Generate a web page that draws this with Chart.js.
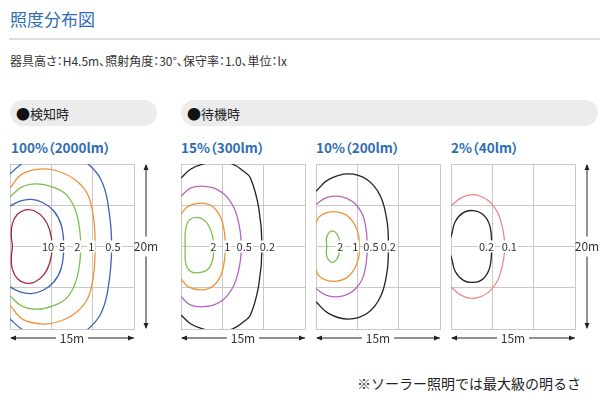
<!DOCTYPE html>
<html>
<head>
<meta charset="utf-8">
<script src="https://cdn.jsdelivr.net/npm/chart.js@4.4.1/dist/chart.umd.min.js"></script>
<style>
  body { margin: 0; width: 600px; height: 400px; background: #fff; position: relative; overflow: hidden;
         font-family: "Noto Sans CJK JP", "Noto Sans", sans-serif; color: #333; }
  .abs { position: absolute; white-space: nowrap; }
  #title { left: 10px; top: 9px; font-size: 17px; color: #2f6db5; line-height: 20px; }
  #rule { left: 9px; top: 38px; width: 591px; height: 2px; background: #dedede; }
  #sub { left: 10px; top: 52px; font-size: 12px; line-height: 18px; color: #333; font-feature-settings: "palt"; }
  .pill { top: 100px; height: 26px; border-radius: 13px; background: #ececec; font-size: 13px; line-height: 26px; color: #222; padding-left: 6px; box-sizing: border-box; }
  .dot { font-size: 14px; color: #111; }
  .ptitle { top: 138px; font-size: 13.5px; font-weight: bold; color: #2f6db5; line-height: 18px; font-feature-settings: "palt"; }
  #note { left: 357px; top: 373px; font-size: 14px; line-height: 20px; color: #222; }
  canvas { position: absolute; }
</style>
</head>
<body>
<div class="abs" id="title">照度分布図</div>
<div class="abs" id="rule"></div>
<div class="abs" id="sub">器具高さ：H4.5m、照射角度：30°、保守率：1.0、単位：lx</div>
<div class="abs pill" style="left:10px;width:147px"><span class="dot">●</span>検知時</div>
<div class="abs pill" style="left:181px;width:417px"><span class="dot">●</span>待機時</div>
<div class="abs ptitle" style="left:11px">100%（2000lm）</div>
<div class="abs ptitle" style="left:181px">15%（300lm）</div>
<div class="abs ptitle" style="left:316px">10%（200lm）</div>
<div class="abs ptitle" style="left:451px">2%（40lm）</div>
<div class="abs" id="note">※ソーラー照明では最大級の明るさ</div>

<canvas id="c1"></canvas>
<canvas id="c2"></canvas>
<canvas id="c3"></canvas>
<canvas id="c4"></canvas>

<script>
// area size (m) and grid ticks
const widthM = 15;
const heightM = 20;
const xTicks = [0, 5, 10, 15];
const yTicks = [0, 5, 10, 15, 20];

// contour points [x m, y m]
// 100% (2000lm)
const p1Lx10 = [[0.3,10],[0.15,11.5],[0.3,12.8],[0.9,13.9],[1.9,14.45],[3.0,14.3],[4.1,13.4],[4.8,12.0],[5.1,10],[4.8,8.0],[4.1,6.6],[3.0,5.7],[1.9,5.55],[0.9,6.1],[0.3,7.2],[0.15,8.5],[0.3,10]];
const p1Lx5 = [[0,14.9],[1.2,15.5],[2.6,15.7],[4.0,15.3],[5.3,14.3],[6.2,12.6],[6.5,10],[6.2,7.4],[5.3,5.7],[4.0,4.7],[2.6,4.3],[1.2,4.5],[0,5.1]];
const p1Lx2 = [[0,16.0],[1.4,17.2],[3.2,17.6],[5.2,17.2],[6.9,16.2],[8.1,13.8],[8.55,10],[8.1,6.2],[6.9,3.8],[5.2,2.8],[3.2,2.4],[1.4,2.8],[0,4.0]];
const p1Lx1 = [[0,17.1],[1.5,18.8],[4.0,19.4],[6.2,19.0],[8.0,18.0],[9.4,16.3],[10.1,13.5],[10.3,10],[10.1,6.5],[9.4,3.7],[8.0,2.0],[6.2,1.0],[4.0,0.6],[1.5,1.2],[0,2.9]];
const p1Lx05 = [[0,18.8],[1.4,20],[3.0,20.9],[5.5,21.3],[8.0,20.9],[9.45,20],[10.9,18.3],[11.8,15.5],[12.3,10],[11.8,4.5],[10.9,1.7],[9.45,0],[8.0,-0.9],[5.5,-1.3],[3.0,-0.9],[1.4,0],[0,1.2]];
// 15% (300lm)
const p2Lx2 = [[0.5,10],[0.55,12.0],[1.0,13.2],[2.1,13.5],[3.1,12.9],[3.75,11.5],[3.95,10],[3.8,8.3],[3.2,7.2],[2.0,6.8],[1.0,7.1],[0.55,8.1],[0.5,10]];
const p2Lx1 = [[0,13.9],[0.9,14.9],[2.6,15.25],[4.0,14.7],[5.0,13.0],[5.35,10],[5.0,7.0],[4.0,5.3],[2.6,4.75],[0.9,5.1],[0,6.1]];
const p2Lx05 = [[0,16.1],[1.2,17.1],[2.8,17.3],[4.4,16.9],[5.8,15.7],[6.8,13.6],[7.3,10],[6.8,6.4],[5.8,4.3],[4.4,3.1],[2.8,2.7],[1.2,2.9],[0,3.9]];
const p2Lx02 = [[0,18.3],[1.2,19.4],[2.7,20],[4.4,20.3],[6.2,20],[7.6,19.1],[8.4,18.3],[9.4,14.7],[9.8,10],[9.4,5.3],[8.4,1.7],[7.6,0.9],[6.2,0],[4.4,-0.3],[2.7,0],[1.2,0.6],[0,1.7]];
// 10% (200lm)
const p3Lx2 = [[1.3,10],[1.25,10.9],[1.5,11.6],[2.0,11.9],[2.55,11.5],[2.85,10.6],[2.85,9.4],[2.55,8.5],[2.0,8.05],[1.5,8.4],[1.25,9.1],[1.3,10]];
const p3Lx1 = [[0,12.8],[0.4,13.6],[1.3,14.1],[2.5,14.2],[3.7,13.8],[4.6,12.8],[5.15,11.4],[5.25,10],[5.15,8.6],[4.6,7.2],[3.7,6.2],[2.5,5.8],[1.3,5.9],[0.4,6.4],[0,7.2]];
const p3Lx05 = [[0,15.1],[1.2,15.9],[2.5,16.1],[3.8,15.8],[4.9,15.0],[5.8,13.4],[6.2,10],[5.8,6.6],[4.9,5.0],[3.8,4.2],[2.5,3.9],[1.2,4.1],[0,4.9]];
const p3Lx02 = [[0,16.7],[1.5,18.1],[3.9,18.8],[6.2,18.1],[7.8,16.1],[8.6,13.0],[8.75,10],[8.6,7.0],[7.8,3.9],[6.2,1.9],[3.9,1.2],[1.5,1.9],[0,3.3]];
// 2% (40lm)
const p4Lx02 = [[-0.7,10],[0,11.2],[0.5,13.0],[1.5,14.1],[2.7,14.35],[3.9,13.85],[4.7,12.5],[4.9,10],[4.7,7.5],[3.9,6.1],[2.7,5.65],[1.5,5.9],[0.5,7.0],[0,8.8],[-0.7,10]];
const p4Lx01 = [[0,14.9],[1.2,15.9],[2.5,16.3],[3.8,16.0],[4.9,15.2],[5.9,13.5],[6.5,10],[5.9,6.5],[4.9,4.8],[3.8,4.0],[2.5,3.7],[1.2,4.1],[0,5.1]];

// value labels on the centre line: [text, x m]
const p1Labels = [["10",4.6],["5",6.3],["2",8.15],["1",9.85],["0.5",12.45]];
const p2Labels = [["2",3.9],["1",5.6],["0.5",7.65],["0.2",10.45]];
const p3Labels = [["2",2.95],["1",4.75],["0.5",6.65],["0.2",8.75]];
const p4Labels = [["0.2",4.3],["0.1",7.05]];
const labelY = 10;

const colors = {
  maroon: "#9e2b3b", blue: "#3d63b3", green: "#7cc04c", orange: "#f09438",
  purple: "#b865c0", black: "#222222", salmon: "#eb8a86"
};

const GRID_W = 124, GRID_H = 165;

function ds(points, color) {
  return {
    data: points.map(p => ({ x: p[0], y: p[1] })),
    borderColor: color,
    borderWidth: 1.3,
    pointRadius: 0,
    showLine: true,
    fill: false,
    tension: 0.4,
    clip: 0,
  };
}

// draws values on centre line + size arrows
const extrasPlugin = {
  id: "extras",
  afterDatasetsDraw(chart) {
    const { ctx, chartArea: a, scales } = chart;
    const opt = chart.options.plugins.extras;
    ctx.save();
    ctx.font = '11px "Noto Sans CJK JP", sans-serif';
    ctx.textAlign = "center";
    ctx.textBaseline = "middle";
    opt.labels.forEach(([t, xv]) => {
      const px = scales.x.getPixelForValue(xv);
      const py = scales.y.getPixelForValue(labelY);
      const w = ctx.measureText(t).width;
      ctx.fillStyle = "#fff";
      ctx.fillRect(px - w / 2 - 1, py - 6, w + 2, 12);
      ctx.fillStyle = "#333";
      ctx.fillText(t, px, py + 0.5);
    });

    ctx.strokeStyle = "#222";
    ctx.fillStyle = "#222";
    ctx.lineWidth = 1;
    ctx.font = '12px "Noto Sans CJK JP", sans-serif';
    // 15m arrow
    const hy = a.bottom + 9;
    const cx = (a.left + a.right) / 2;
    ctx.beginPath();
    ctx.moveTo(a.left + 1, hy); ctx.lineTo(cx - 16, hy);
    ctx.moveTo(cx + 16, hy); ctx.lineTo(a.right, hy);
    ctx.stroke();
    ctx.beginPath();
    ctx.moveTo(a.left, hy); ctx.lineTo(a.left + 6, hy - 2.5); ctx.lineTo(a.left + 6, hy + 2.5); ctx.closePath();
    ctx.moveTo(a.right, hy); ctx.lineTo(a.right - 6, hy - 2.5); ctx.lineTo(a.right - 6, hy + 2.5); ctx.closePath();
    ctx.fill();
    ctx.fillStyle = "#333";
    ctx.fillText(widthM + "m", cx, hy);
    // 20m arrow
    if (opt.vArrow) {
      const vx = a.right + 12;
      const cy = (a.top + a.bottom) / 2;
      ctx.fillStyle = "#222";
      ctx.beginPath();
      ctx.moveTo(vx, a.top + 1); ctx.lineTo(vx, cy - 10);
      ctx.moveTo(vx, cy + 10); ctx.lineTo(vx, a.bottom - 1);
      ctx.stroke();
      ctx.beginPath();
      ctx.moveTo(vx, a.top); ctx.lineTo(vx - 2.5, a.top + 6); ctx.lineTo(vx + 2.5, a.top + 6); ctx.closePath();
      ctx.moveTo(vx, a.bottom); ctx.lineTo(vx - 2.5, a.bottom - 6); ctx.lineTo(vx + 2.5, a.bottom - 6); ctx.closePath();
      ctx.fill();
      ctx.fillStyle = "#333";
      ctx.fillText(heightM + "m", vx, cy);
    }
    ctx.restore();
  }
};

function makePanel(id, left, top, datasets, labels, vArrow) {
  const pad = { left: 4, top: 4, right: 32, bottom: 18 };
  const el = document.getElementById(id);
  const w = GRID_W + pad.left + pad.right, h = GRID_H + pad.top + pad.bottom;
  el.style.left = (left - pad.left) + "px";
  el.style.top = (top - pad.top) + "px";
  el.style.width = w + "px";
  el.style.height = h + "px";
  el.width = w; el.height = h;
  const axis = (max, ticks) => ({
    type: "linear", min: 0, max: max,
    afterBuildTicks: s => { s.ticks = ticks.map(v => ({ value: v })); },
    ticks: { display: false },
    grid: { color: "#c9c9c9", lineWidth: 1, drawTicks: false },
    border: { display: true, color: "#c9c9c9" },
  });
  new Chart(el, {
    type: "scatter",
    data: { datasets: datasets },
    options: {
      responsive: false,
      animation: false,
      layout: { padding: pad },
      plugins: { legend: { display: false }, tooltip: { enabled: false }, extras: { labels: labels, vArrow: vArrow } },
      scales: { x: axis(widthM, xTicks), y: axis(heightM, yTicks) },
    },
    plugins: [extrasPlugin],
  });
}

makePanel("c1", 10, 164, [
  ds(p1Lx05, colors.blue), ds(p1Lx1, colors.orange), ds(p1Lx2, colors.green),
  ds(p1Lx5, colors.blue), ds(p1Lx10, colors.maroon)
], p1Labels, true);
makePanel("c2", 181, 164, [
  ds(p2Lx02, colors.black), ds(p2Lx05, colors.purple), ds(p2Lx1, colors.orange), ds(p2Lx2, colors.green)
], p2Labels, false);
makePanel("c3", 316, 164, [
  ds(p3Lx02, colors.black), ds(p3Lx05, colors.purple), ds(p3Lx1, colors.orange), ds(p3Lx2, colors.green)
], p3Labels, false);
makePanel("c4", 451, 164, [
  ds(p4Lx01, colors.salmon), ds(p4Lx02, colors.black)
], p4Labels, true);
</script>
</body>
</html>
